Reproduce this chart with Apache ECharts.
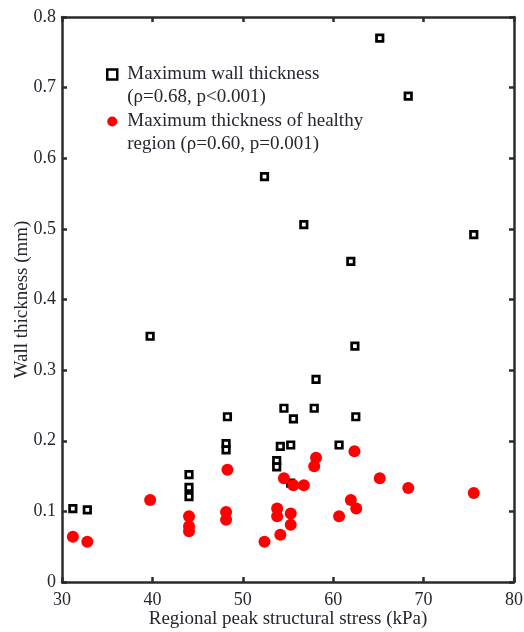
<!DOCTYPE html>
<html>
<head>
<meta charset="utf-8">
<script src="https://cdn.jsdelivr.net/npm/echarts@6/dist/echarts.min.js"></script>
<style>
  html, body { margin: 0; padding: 0; background: #fff; }
  #chart { width: 524px; height: 632px; }
</style>
</head>
<body>
<div id="chart"></div>
<script>
// Regional peak structural stress (kPa) per region
const stress = [31.2, 32.8, 39.75, 44.05, 44.05, 44.05, 48.15, 48.15, 48.3, 52.4,
  53.75, 53.75, 54.15, 54.55, 55.3, 55.6, 55.3, 56.75, 57.9, 58.1,
  60.65, 61.95, 62.4, 62.5, 65.15, 68.3, 75.55];
// Maximum wall thickness (mm)
const wallMax = [0.104, 0.102, 0.348, 0.152, 0.134, 0.121, 0.196, 0.187, 0.234, 0.574,
  0.172, 0.163, 0.192, 0.246, 0.194, 0.231, 0.140, 0.506, 0.246, 0.287,
  0.194, 0.454, 0.334, 0.234, 0.770, 0.688, 0.492];

// Healthy region stress (kPa) and maximum thickness (mm)
const healthyStress = [31.2, 32.8, 39.75, 44.05, 44.05, 44.05, 48.3, 48.15, 48.15, 52.4,
  53.8, 53.8, 54.15, 54.55, 55.3, 55.3, 55.6, 56.75, 57.9, 58.1,
  60.65, 61.95, 62.35, 62.55, 65.15, 68.3, 75.55];
const healthyMax = [0.064, 0.057, 0.116, 0.093, 0.079, 0.072, 0.159, 0.099, 0.088, 0.057,
  0.104, 0.093, 0.067, 0.147, 0.097, 0.081, 0.137, 0.137, 0.164, 0.176,
  0.093, 0.116, 0.185, 0.104, 0.147, 0.133, 0.126];

// A leading blank line keeps each legend icon beside the first visible text line
const seriesNames = [
  '\nMaximum wall thickness\n(\u03c1=0.68, p<0.001)',
  '\nMaximum thickness of healthy\nregion (\u03c1=0.60, p=0.001)'
];

const xTicks = [30, 40, 50, 60, 70, 80];
const yTicks = [0, 0.1, 0.2, 0.3, 0.4, 0.5, 0.6, 0.7, 0.8];

const FONT = '"Liberation Serif", "Times New Roman", serif';
const FS = 19;      // axis names and legend
const FS_TICK = 18; // tick labels
const INK = '#262630';
const AXIS = '#2b2b2b';

const pairs = (xs, ys) => xs.map((x, i) => [x, ys[i]]);

const frameAxis = {
  axisLine: { show: true, onZero: false, lineStyle: { color: AXIS, width: 2.5 } },
  axisTick: { show: true, inside: true, length: 5, lineStyle: { color: AXIS, width: 2.5 } },
  splitLine: { show: false }
};

const chart = echarts.init(document.getElementById('chart'), null, { renderer: 'canvas' });
chart.setOption({
  animation: false,
  backgroundColor: '#fff',
  grid: { left: 62, right: 10, top: 17, bottom: 50, containLabel: false, outerBoundsMode: 'none' },
  legend: {
    orient: 'vertical',
    left: 101,
    top: 35,
    itemWidth: 10,
    itemHeight: 10,
    itemGap: -22,
    selectedMode: false,
    textStyle: { fontFamily: FONT, fontSize: FS, lineHeight: 23, color: INK, padding: [0, 0, 0, 5] },
    data: [
      { name: seriesNames[0], icon: 'rect', itemStyle: { color: '#fff', borderColor: '#000', borderWidth: 2.5 } },
      { name: seriesNames[1], icon: 'circle', itemStyle: { color: '#ff0000' } }
    ]
  },
  xAxis: [
    Object.assign({}, frameAxis, {
      type: 'value', position: 'bottom', min: 30, max: 80, interval: 10,
      name: 'Regional peak structural stress (kPa)',
      nameLocation: 'middle', nameGap: 28, nameMoveOverlap: false,
      nameTextStyle: { fontFamily: FONT, fontSize: FS, color: INK },
      axisLabel: { show: true, margin: 9, fontFamily: FONT, fontSize: FS_TICK, color: INK,
        formatter: v => xTicks.includes(v) ? String(v) : '' }
    }),
    Object.assign({}, frameAxis, {
      type: 'value', position: 'top', min: 30, max: 80, interval: 10,
      axisLabel: { show: false }
    })
  ],
  yAxis: [
    Object.assign({}, frameAxis, {
      type: 'value', position: 'left', min: 0, max: 0.8, interval: 0.1,
      name: 'Wall thickness (mm)',
      nameLocation: 'middle', nameGap: 30, nameMoveOverlap: false,
      nameTextStyle: { fontFamily: FONT, fontSize: FS, color: INK },
      axisLabel: { show: true, margin: 6, fontFamily: FONT, fontSize: FS_TICK, color: INK,
        formatter: v => {
          const t = yTicks.find(k => Math.abs(k - v) < 1e-9);
          return t === undefined ? '' : (t === 0 ? '0' : t.toFixed(1));
        } }
    }),
    Object.assign({}, frameAxis, {
      type: 'value', position: 'right', min: 0, max: 0.8, interval: 0.1,
      axisLabel: { show: false }
    })
  ],
  series: [
    {
      name: seriesNames[0],
      type: 'scatter',
      xAxisIndex: 0, yAxisIndex: 0,
      symbol: 'rect',
      symbolSize: 6.5,
      itemStyle: { color: '#fff', borderColor: '#000', borderWidth: 2.7, opacity: 1 },
      data: pairs(stress, wallMax),
      z: 2
    },
    {
      name: seriesNames[1],
      type: 'scatter',
      xAxisIndex: 0, yAxisIndex: 0,
      symbol: 'circle',
      symbolSize: 12,
      itemStyle: { color: '#ff0000', opacity: 1 },
      data: pairs(healthyStress, healthyMax),
      z: 3
    }
  ]
});
</script>
</body>
</html>
